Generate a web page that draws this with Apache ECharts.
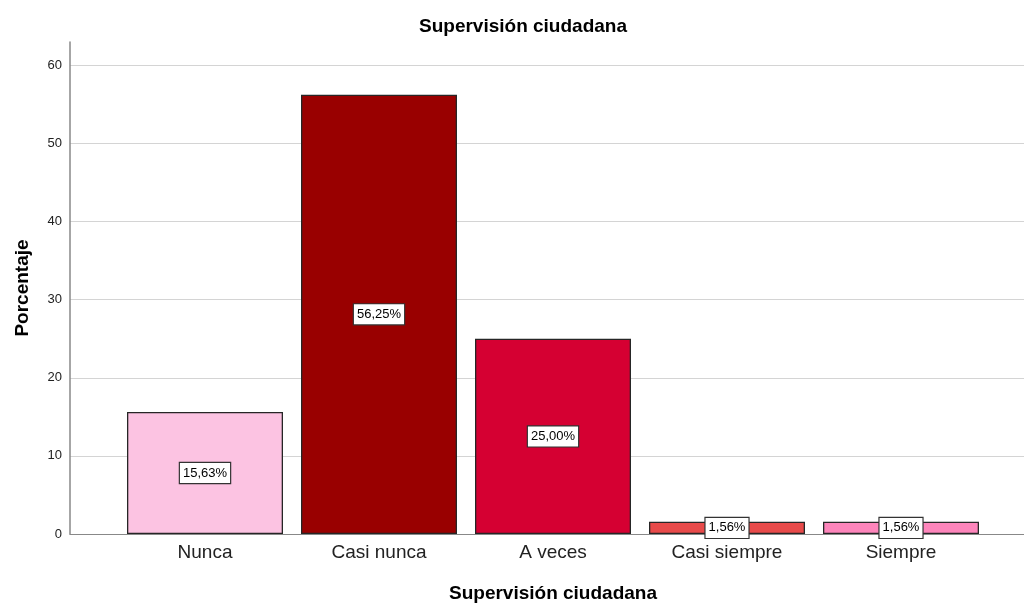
<!DOCTYPE html>
<html>
<head>
<meta charset="utf-8">
<script src="https://cdn.jsdelivr.net/npm/echarts@6/dist/echarts.min.js"></script>
<style>
  html, body { margin: 0; padding: 0; background: #fff; }
  #chart { width: 1024px; height: 604px; }
</style>
</head>
<body>
<div id="chart"></div>
<script>
// datos
const categorias = ['Nunca', 'Casi nunca', 'A veces', 'Casi siempre', 'Siempre']
const porcentajes = [15.63, 56.25, 25.00, 1.56, 1.56]
const colores = ['#fcc3e2', '#990000', '#d50032', '#e84a4a', '#fd85bb']
const ticksY = [0, 10, 20, 30, 40, 50, 60]

const fuente = 'Liberation Sans, Arial, sans-serif'

let chart = echarts.init(document.getElementById('chart'))

const option = {
  backgroundColor: '#fff',
  title: {
    text: 'Supervisión ciudadana',
    left: 518,
    textAlign: 'center',
    top: 12,
    textStyle: { fontFamily: fuente, fontSize: 19, fontWeight: 'bold', color: '#000' }
  },
  grid: [
    // grid de fondo: eje Y y lineas guia
    { left: 70, right: 0, top: 42, bottom: 70, outerBoundsMode: 'none' },
    // grid de barras
    { left: 118, width: 870, top: 42, bottom: 70, outerBoundsMode: 'none' }
  ],
  xAxis: [
    {
      gridIndex: 0,
      type: 'value',
      min: 0,
      max: 1,
      axisLine: { show: true, lineStyle: { color: '#888', width: 1 } },
      axisTick: { show: false },
      axisLabel: { show: false },
      splitLine: { show: false }
    },
    {
      gridIndex: 1,
      type: 'category',
      data: categorias,
      axisLine: { show: false },
      axisTick: { show: false },
      axisLabel: { fontFamily: fuente, fontSize: 19, color: '#222', margin: 9 },
      name: 'Supervisión ciudadana',
      nameLocation: 'middle',
      nameGap: 50,
      nameTextStyle: { fontFamily: fuente, fontSize: 19, fontWeight: 'bold', color: '#000' }
    }
  ],
  yAxis: [
    {
      gridIndex: 0,
      type: 'value',
      min: 0,
      max: 63,
      interval: 10,
      axisLine: { show: true, lineStyle: { color: '#888', width: 1.5 } },
      axisTick: { show: false },
      axisLabel: {
        fontFamily: fuente, fontSize: 13, color: '#222', margin: 8,
        showMaxLabel: false,
        formatter: v => ticksY.includes(v) ? String(v) : ''
      },
      splitLine: { show: true, showMaxLine: false, lineStyle: { color: '#d4d4d4', width: 1 } },
      name: 'Porcentaje',
      nameLocation: 'middle',
      nameGap: 38,
      nameTextStyle: { fontFamily: fuente, fontSize: 19, fontWeight: 'bold', color: '#000' }
    },
    {
      gridIndex: 1,
      type: 'value',
      min: 0,
      max: 63,
      show: false
    }
  ],
  series: [
    {
      type: 'bar',
      xAxisIndex: 1,
      yAxisIndex: 1,
      barWidth: 156,
      data: porcentajes.map((v, i) => ({
        value: v,
        itemStyle: { color: colores[i] }
      })),
      itemStyle: { borderColor: '#262626', borderWidth: 1.3 },
      label: {
        show: true,
        position: 'inside',
        formatter: p => p.value.toFixed(2).replace('.', ',') + '%',
        fontFamily: fuente,
        fontSize: 13,
        color: '#000',
        backgroundColor: '#fff',
        borderColor: '#333',
        borderWidth: 1.2,
        padding: [4, 3, 3, 3]
      }
    }
  ]
}

chart.setOption(option)
</script>
</body>
</html>
